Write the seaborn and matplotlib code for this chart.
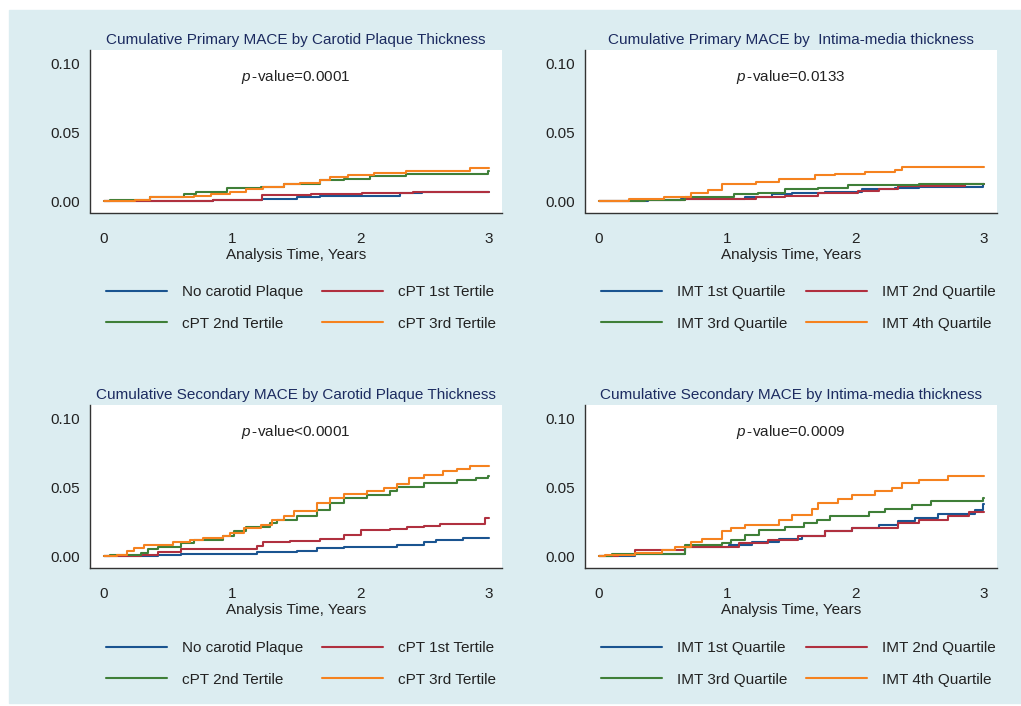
import pandas as pd
import matplotlib.pyplot as plt
import seaborn as sns
from matplotlib.patches import Rectangle

sns.set_style("white")
plt.rcParams['font.family'] = ['Liberation Sans', 'DejaVu Sans']
plt.rcParams['mathtext.fontset'] = 'custom'
plt.rcParams['mathtext.it'] = 'Liberation Sans:italic'
plt.rcParams['mathtext.rm'] = 'Liberation Sans'

# Datos (tiempo de inicio de cada escalón, incidencia acumulada)
# Panel 1: Primary MACE por cPT
p1_t_none = [0, 0.85, 1.23, 1.50, 1.68, 2.31, 2.48, 3.0]
p1_y_none = [0, 0.0012, 0.0019, 0.0027, 0.0036, 0.0056, 0.0066, 0.0066]
p1_t_t1 = [0, 0.85, 1.23, 1.61, 2.01, 2.41, 3.0]
p1_y_t1 = [0, 0.0012, 0.0043, 0.0052, 0.0060, 0.0068, 0.0068]
p1_t_t2 = [0, 0.05, 0.36, 0.62, 0.72, 0.96, 1.22, 1.40, 1.68, 1.87, 2.07, 2.35, 2.99, 3.0]
p1_y_t2 = [0, 0.0012, 0.0031, 0.0051, 0.0068, 0.0092, 0.0104, 0.0123, 0.0152, 0.0164, 0.0181, 0.0200, 0.0222, 0.0222]
p1_t_t3 = [0, 0.24, 0.36, 0.70, 0.83, 0.98, 1.11, 1.24, 1.40, 1.53, 1.68, 1.76, 1.90, 2.10, 2.35, 2.85, 3.0]
p1_y_t3 = [0, 0.0012, 0.0027, 0.0036, 0.0051, 0.0068, 0.0085, 0.0104, 0.0121, 0.0135, 0.0157, 0.0176, 0.0191, 0.0205, 0.0220, 0.0239, 0.0239]

# Panel 2: Primary MACE por IMT
p2_t_q1 = [0, 0.38, 0.64, 1.14, 1.35, 1.50, 1.76, 2.05, 2.31, 2.49, 2.99, 3.0]
p2_y_q1 = [0, 0.0012, 0.0019, 0.0031, 0.0051, 0.0060, 0.0070, 0.0085, 0.0099, 0.0104, 0.0125, 0.0125]
p2_t_q2 = [0, 0.23, 0.67, 1.22, 1.45, 1.71, 2.02, 2.18, 2.33, 2.85, 3.0]
p2_y_q2 = [0, 0.0005, 0.0014, 0.0027, 0.0041, 0.0060, 0.0075, 0.0089, 0.0109, 0.0123, 0.0123]
p2_t_q3 = [0, 0.36, 0.67, 1.05, 1.24, 1.45, 1.71, 1.94, 2.49, 3.0]
p2_y_q3 = [0, 0.0012, 0.0031, 0.0051, 0.0060, 0.0085, 0.0099, 0.0118, 0.0128, 0.0128]
p2_t_q4 = [0, 0.23, 0.51, 0.72, 0.85, 0.96, 1.22, 1.40, 1.68, 1.84, 2.07, 2.31, 2.36, 3.0]
p2_y_q4 = [0, 0.0014, 0.0031, 0.0060, 0.0080, 0.0128, 0.0138, 0.0164, 0.0188, 0.0200, 0.0213, 0.0225, 0.0244, 0.0244]

# Panel 3: Secondary MACE por cPT
p3_t_none = [0, 0.42, 0.60, 1.19, 1.50, 1.66, 1.87, 2.28, 2.49, 2.59, 2.80, 3.0]
p3_y_none = [0, 0.0007, 0.0019, 0.0028, 0.0041, 0.0056, 0.0065, 0.0083, 0.0100, 0.0114, 0.0132, 0.0132]
p3_t_t1 = [0, 0.29, 0.42, 0.60, 1.19, 1.24, 1.45, 1.68, 1.87, 2.00, 2.23, 2.36, 2.49, 2.62, 2.97, 3.0]
p3_y_t1 = [0, 0.0011, 0.0028, 0.0049, 0.0073, 0.0100, 0.0107, 0.0127, 0.0155, 0.0187, 0.0195, 0.0212, 0.0220, 0.0232, 0.0278, 0.0278]
p3_t_t2 = [0, 0.05, 0.29, 0.34, 0.42, 0.60, 0.70, 0.93, 1.01, 1.11, 1.29, 1.35, 1.50, 1.66, 1.76, 1.87,
           2.05, 2.23, 2.28, 2.49, 2.75, 2.90, 2.99, 3.0]
p3_y_t2 = [0, 0.0005, 0.0025, 0.0049, 0.0068, 0.0092, 0.0120, 0.0149, 0.0181, 0.0212, 0.0240, 0.0260, 0.0289, 0.0337,
           0.0385, 0.0422, 0.0446, 0.0470, 0.0501, 0.0530, 0.0549, 0.0566, 0.0583, 0.0583]
p3_t_t3 = [0, 0.10, 0.18, 0.23, 0.31, 0.54, 0.67, 0.77, 0.93, 0.98, 1.09, 1.22, 1.31, 1.40, 1.48, 1.66, 1.76,
           1.87, 2.05, 2.18, 2.28, 2.38, 2.49, 2.64, 2.75, 2.85, 3.0]
p3_y_t3 = [0, 0.0011, 0.0035, 0.0059, 0.0083, 0.0100, 0.0120, 0.0132, 0.0149, 0.0168, 0.0204, 0.0228, 0.0260,
           0.0289, 0.0325, 0.0385, 0.0422, 0.0450, 0.0470, 0.0494, 0.0523, 0.0566, 0.0591, 0.0615, 0.0634, 0.0651, 0.0651]

# Panel 4: Secondary MACE por IMT
p4_t_q1 = [0, 0.28, 0.67, 1.01, 1.19, 1.40, 1.58, 1.76, 1.97, 2.18, 2.33, 2.46, 2.64, 2.93, 2.99, 3.0]
p4_y_q1 = [0, 0.0016, 0.0069, 0.0081, 0.0106, 0.0122, 0.0147, 0.0180, 0.0204, 0.0228, 0.0252, 0.0276, 0.0308, 0.0337, 0.0381, 0.0381]
p4_t_q2 = [0, 0.15, 0.28, 0.67, 1.09, 1.32, 1.55, 1.76, 1.97, 2.33, 2.49, 2.72, 2.88, 3.0]
p4_y_q2 = [0, 0.0012, 0.0043, 0.0067, 0.0096, 0.0120, 0.0149, 0.0180, 0.0204, 0.0240, 0.0264, 0.0288, 0.0317, 0.0317]
p4_t_q3 = [0, 0.10, 0.67, 0.96, 1.03, 1.14, 1.25, 1.45, 1.60, 1.70, 1.80, 2.10, 2.23, 2.44, 2.59, 2.99, 3.0]
p4_y_q3 = [0, 0.0016, 0.0081, 0.0095, 0.0120, 0.0150, 0.0192, 0.0210, 0.0240, 0.0264, 0.0293, 0.0317, 0.0341,
           0.0373, 0.0397, 0.0421, 0.0421]
p4_t_q4 = [0, 0.05, 0.28, 0.49, 0.59, 0.72, 0.80, 0.96, 1.03, 1.14, 1.40, 1.50, 1.66, 1.71, 1.86, 1.97, 2.15,
           2.28, 2.36, 2.49, 2.72, 3.0]
p4_y_q4 = [0, 0.0012, 0.0024, 0.0047, 0.0067, 0.0100, 0.0125, 0.0180, 0.0204, 0.0228, 0.0264, 0.0300, 0.0341,
           0.0385, 0.0414, 0.0446, 0.0470, 0.0494, 0.0530, 0.0549, 0.0583, 0.0583]

cpt_labels = ["No carotid Plaque", "cPT 1st Tertile", "cPT 2nd Tertile", "cPT 3rd Tertile"]
imt_labels = ["IMT 1st Quartile", "IMT 2nd Quartile", "IMT 3rd Quartile", "IMT 4th Quartile"]

titles = ["Cumulative Primary MACE by Carotid Plaque Thickness",
          "Cumulative Primary MACE by  Intima-media thickness",
          "Cumulative Secondary MACE by Carotid Plaque Thickness",
          "Cumulative Secondary MACE by Intima-media thickness"]
pvalues = ["=0.0001", "=0.0133", "<0.0001", "=0.0009"]

paneles = [
    (cpt_labels, [(p1_t_none, p1_y_none), (p1_t_t1, p1_y_t1), (p1_t_t2, p1_y_t2), (p1_t_t3, p1_y_t3)]),
    (imt_labels, [(p2_t_q1, p2_y_q1), (p2_t_q2, p2_y_q2), (p2_t_q3, p2_y_q3), (p2_t_q4, p2_y_q4)]),
    (cpt_labels, [(p3_t_none, p3_y_none), (p3_t_t1, p3_y_t1), (p3_t_t2, p3_y_t2), (p3_t_t3, p3_y_t3)]),
    (imt_labels, [(p4_t_q1, p4_y_q1), (p4_t_q2, p4_y_q2), (p4_t_q3, p4_y_q3), (p4_t_q4, p4_y_q4)]),
]

colores = ["#1a5490", "#b0303f", "#3f7f38", "#f5821f"]
fondo = "#dcedf1"
navy = "#1c2b60"

W, H = 1021, 706
fig = plt.figure(figsize=(W / 100, H / 100), dpi=100, facecolor="white")
fig.add_artist(Rectangle((9 / W, 3 / H), (W - 9) / W, (H - 13) / H,
                         transform=fig.transFigure, color=fondo, zorder=-10))

# posiciones en pixeles: (izquierda, arriba)
pos = [(90, 50), (585, 50), (90, 405), (585, 405)]
leg_pos = [(106, 285), (601, 285), (106, 641), (601, 641)]

for i, (labels, series) in enumerate(paneles):
    x0, y0 = pos[i]
    ax = fig.add_axes([x0 / W, 1 - (y0 + 162.5) / H, 412 / W, 162.5 / H])
    ax.set_facecolor("white")

    frames = []
    for lab, (t, y) in zip(labels, series):
        frames.append(pd.DataFrame({"t": t, "y": y, "grupo": lab}))
    df = pd.concat(frames, ignore_index=True)

    sns.lineplot(data=df, x="t", y="y", hue="grupo", hue_order=labels,
                 palette=colores, estimator=None, drawstyle="steps-post",
                 linewidth=1.5, ax=ax)

    ax.set_xlim(-0.109, 3.101)
    ax.set_ylim(-0.0082, 0.1095)
    ax.set_xticks([0, 1, 2, 3])
    ax.set_yticks([0.0, 0.05, 0.10])
    ax.set_yticklabels(["0.00", "0.05", "0.10"])
    for s in ["top", "right"]:
        ax.spines[s].set_visible(False)
    for s in ["left", "bottom"]:
        ax.spines[s].set_color("#333333")
        ax.spines[s].set_linewidth(1.0)
    ax.tick_params(axis="both", direction="out", length=6, width=1, color="#333333",
                   labelsize=11, labelcolor="#222222")
    ax.tick_params(axis="x", pad=8)
    ax.tick_params(axis="y", pad=1.5)
    ax.set_xlabel("Analysis Time, Years", fontsize=11, color="#222222", labelpad=1.5)
    ax.set_ylabel("")
    ax.set_title(titles[i], fontsize=11, color=navy, pad=4)

    ax.text(0.5, 0.834, r"$p\,$" + "-value" + pvalues[i], transform=ax.transAxes,
            ha="center", va="center", fontsize=11, color="#222222")

    handles, labs = ax.get_legend_handles_labels()
    orden = [0, 2, 1, 3]
    lx, ly = leg_pos[i]
    ax.legend([handles[k] for k in orden], [labs[k] for k in orden],
              loc="upper left", bbox_to_anchor=(lx / W, 1 - ly / H),
              bbox_transform=fig.transFigure, ncol=2, frameon=False,
              fontsize=11, handlelength=4.0, handletextpad=0.95,
              columnspacing=1.25, labelspacing=1.15, borderpad=0, borderaxespad=0,
              labelcolor="#222222")

fig.savefig("out.png", dpi=100, facecolor="white")
